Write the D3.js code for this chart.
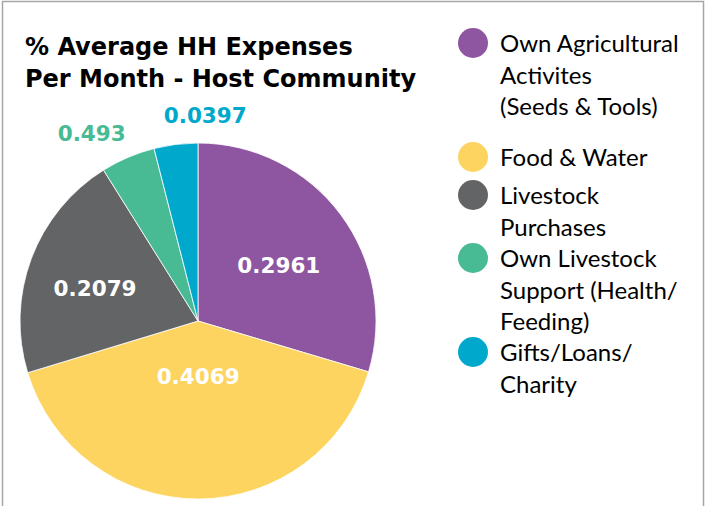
<!DOCTYPE html>
<html>
<head>
<meta charset="utf-8">
<script src="https://cdn.jsdelivr.net/npm/d3@7"></script>
<style>
	body { margin: 0; background: #fff; }
	svg { display: block; font-family: Lato, "Open Sans", sans-serif; }
	.bold { font-family: "DejaVu Sans", sans-serif; font-weight: bold; }
</style>
</head>
<body>
<svg id="chart" width="708" height="506"></svg>
<script>

// chart data
var categories = ["Own Agricultural Activites (Seeds & Tools)", "Food & Water", "Livestock Purchases",
	"Own Livestock Support (Health/ Feeding)", "Gifts/Loans/ Charity"];
var values = [0.2961, 0.4069, 0.2079, 0.0493, 0.0397];
var valueLabels = ["0.2961", "0.4069", "0.2079", "0.493", "0.0397"]; // as printed on the chart
var colours = ["#8e55a0", "#fcd45f", "#636466", "#48bb95", "#00a9cc"];
var legendLines = [
	["Own Agricultural", "Activites", "(Seeds & Tools)"],
	["Food & Water"],
	["Livestock", "Purchases"],
	["Own Livestock", "Support (Health/", "Feeding)"],
	["Gifts/Loans/", "Charity"]
];

var svg = d3.select("#chart");
var cx = 198, cy = 321, radius = 178;

// frame
svg.append("path")
	.attr("d", "M2.5,506 V1.5 H703.5 V506")
	.style("fill", "none")
	.style("stroke", "#a6a6a6")
	.style("stroke-width", 1.5);

// title
var title = svg.append("text")
	.attr("class", "bold")
	.attr("x", 25)
	.attr("y", 55)
	.style("font-size", "24px")
	.style("fill", "#000");
title.append("tspan").attr("x", 25).text("% Average HH Expenses");
title.append("tspan").attr("x", 25).attr("dy", 32).text("Per Month - Host Community");

var pie = d3.pie().sort(null).value(function(d) { return d; });
var arcs = pie(values);

var arc = d3.arc().innerRadius(0).outerRadius(radius);

var g = svg.append("g").attr("transform", "translate(" + cx + "," + cy + ")");

g.selectAll(".slice")
	.data(arcs)
	.enter().append("path")
	.attr("class", "slice")
	.attr("d", arc)
	.style("fill", function(d, i) { return colours[i]; })
	.style("stroke", "#fff")
	.style("stroke-width", 0.8);

// label placement: radius along the slice mid angle, plus a nudge for the outside ones
var labelRadius = [98, 55, 108, 216, 206];
var labelAngleShift = [0.04, 0, -0.05, -0.11, 0.16];
var inside = [true, true, true, false, false];

g.selectAll(".val")
	.data(arcs)
	.enter().append("text")
	.attr("class", "val bold")
	.attr("x", function(d, i) {
		var a = (d.startAngle + d.endAngle) / 2 + labelAngleShift[i];
		return Math.sin(a) * labelRadius[i];
	})
	.attr("y", function(d, i) {
		var a = (d.startAngle + d.endAngle) / 2 + labelAngleShift[i];
		return -Math.cos(a) * labelRadius[i];
	})
	.attr("dy", "0.36em")
	.attr("text-anchor", "middle")
	.style("font-size", "21.5px")
	.style("fill", function(d, i) { return inside[i] ? "#fff" : colours[i]; })
	.text(function(d, i) { return valueLabels[i]; });

// legend
var lineH = 31.6;
var legendTop = [52, 166, 204, 267, 361];

var item = svg.selectAll(".legend")
	.data(legendLines)
	.enter().append("g")
	.attr("class", "legend")
	.attr("transform", function(d, i) { return "translate(0," + legendTop[i] + ")"; });

item.append("circle")
	.attr("cx", 473)
	.attr("cy", -9)
	.attr("r", 15)
	.style("fill", function(d, i) { return colours[i]; });

item.append("text")
	.attr("x", 500)
	.style("font-size", "24px")
	.style("fill", "#000")
	.selectAll("tspan")
	.data(function(d) { return d; })
	.enter().append("tspan")
	.attr("x", 500)
	.attr("y", function(d, j) { return j * lineH; })
	.text(function(d) { return d; });

</script>
</body>
</html>
